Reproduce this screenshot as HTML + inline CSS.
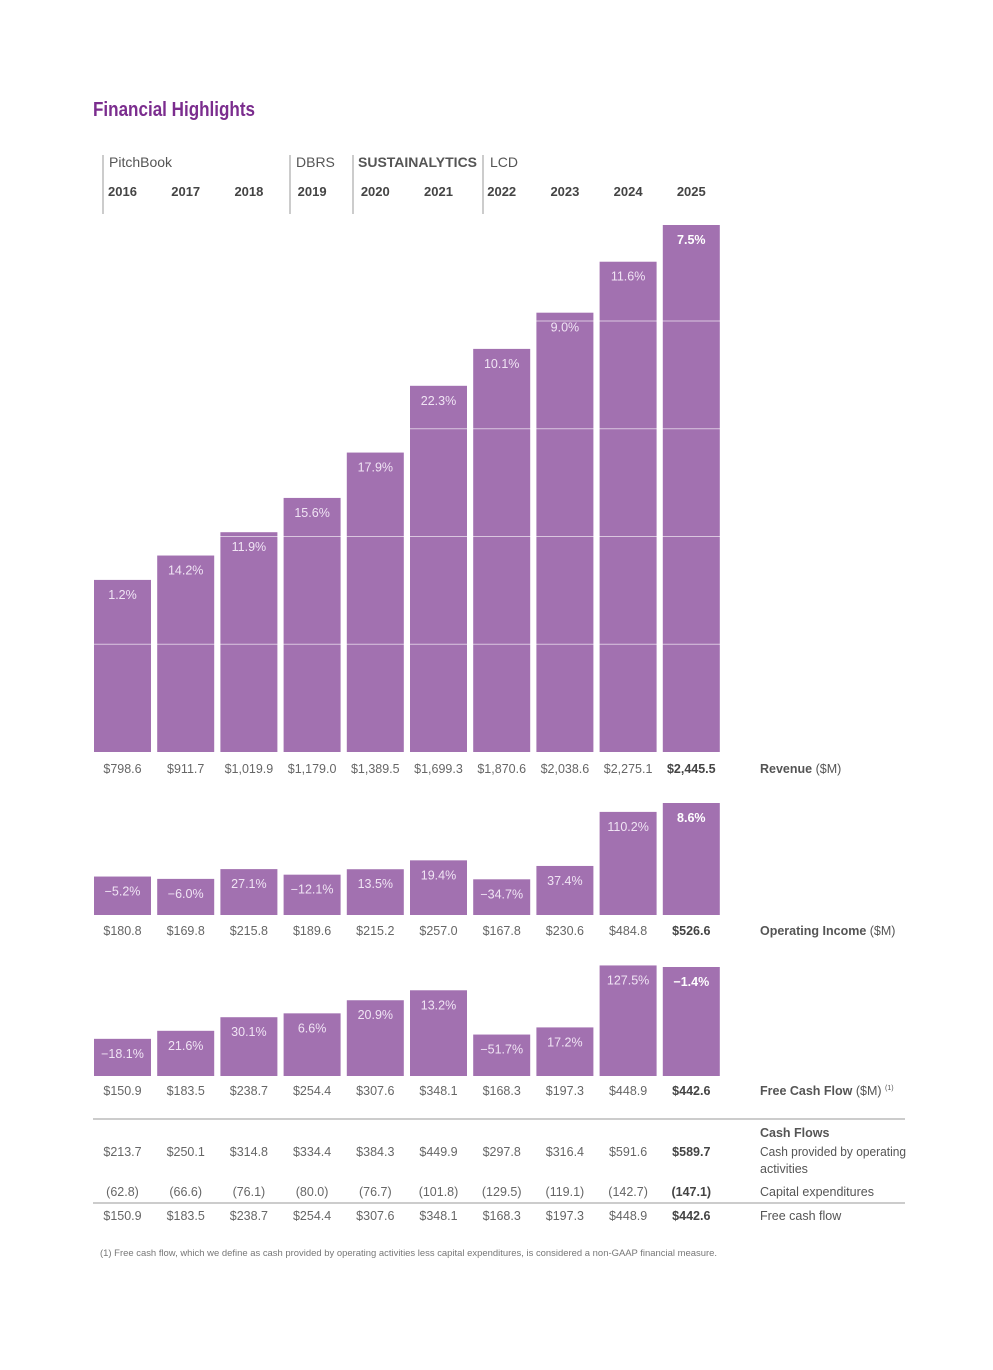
<!DOCTYPE html>
<html><head><meta charset="utf-8">
<style>
body{margin:0;background:#fff;}
svg text{font-family:"Liberation Sans Narrow","Liberation Sans",sans-serif;}
</style></head>
<body>
<svg id="chart" width="993" height="1365" viewBox="0 0 993 1365" xmlns="http://www.w3.org/2000/svg">
<text x="93" y="116" font-size="20" font-weight="bold" fill="#7b2d8e" textLength="162" lengthAdjust="spacingAndGlyphs">Financial Highlights</text>
<g id="hdr"></g>
<g id="g"></g>
<g id="tbl"></g>
<text x="100" y="1256" font-size="9.5" fill="#777" textLength="617" lengthAdjust="spacingAndGlyphs">(1) Free cash flow, which we define as cash provided by operating activities less capital expenditures, is considered a non-GAAP financial measure.</text>
</svg>
<script>
const years=["2016","2017","2018","2019","2020","2021","2022","2023","2024","2025"];
const revenue=[798.6,911.7,1019.9,1179.0,1389.5,1699.3,1870.6,2038.6,2275.1,2445.5];
const revenueGrowth=["1.2%","14.2%","11.9%","15.6%","17.9%","22.3%","10.1%","9.0%","11.6%","7.5%"];
const opIncome=[180.8,169.8,215.8,189.6,215.2,257.0,167.8,230.6,484.8,526.6];
const opGrowth=["−5.2%","−6.0%","27.1%","−12.1%","13.5%","19.4%","−34.7%","37.4%","110.2%","8.6%"];
const fcf=[150.9,183.5,238.7,254.4,307.6,348.1,168.3,197.3,448.9,442.6];
const fcfGrowth=["−18.1%","21.6%","30.1%","6.6%","20.9%","13.2%","−51.7%","17.2%","127.5%","−1.4%"];
const cfo=[213.7,250.1,314.8,334.4,384.3,449.9,297.8,316.4,591.6,589.7];
const capex=[62.8,66.6,76.1,80.0,76.7,101.8,129.5,119.1,142.7,147.1];
const revGridTicks=[500,1000,1500,2000];
const brands=[["PitchBook",109,false],["DBRS",296,false],["SUSTAINALYTICS",358,true],["LCD",490,false]];
const ns="http://www.w3.org/2000/svg";
function el(p,t,a,txt){const e=document.createElementNS(ns,t);for(const k in a)e.setAttribute(k,a[k]);if(txt!==undefined)e.textContent=txt;p.appendChild(e);return e;}
const xL=i=>94+i*63.2, bw=57, xC=i=>xL(i)+bw/2;
const fmt=v=>"$"+v.toLocaleString("en-US",{minimumFractionDigits:1,maximumFractionDigits:1});
const hdr=document.getElementById('hdr');
[103,290,353,483].forEach(x=>{const l=el(hdr,'line',{x1:x,x2:x,y1:155,y2:214,stroke:'#999','stroke-width':1});

});
brands.forEach(b=>{const t=el(hdr,'text',{x:b[1],y:167,'font-size':14,fill:'#555','font-weight':b[2]?'bold':'normal','font-family':'"Liberation Sans",sans-serif'},b[0]);

});
years.forEach((y,i)=>{const t=el(hdr,'text',{x:xC(i),y:196,'font-size':13,'font-weight':'bold',fill:'#444','text-anchor':'middle'},y);

});
const g=document.getElementById('g');
function section(vals,growth,base,scale,valY,label,name){
 vals.forEach((v,i)=>{const h=v*scale;
  const r=el(g,'rect',{x:xL(i),y:base-h,width:bw,height:h,fill:'#a271b0'});
  
  
  const last=i===vals.length-1;
  const t=el(g,'text',{x:xC(i),y:base-h+19,'font-size':12.5,fill:last?'#fff':'#f0e4f4','text-anchor':'middle','font-weight':last?'bold':'normal'},growth[i]);
  
  
  const vt=el(g,'text',{x:xC(i),y:valY,'font-size':12.5,fill:last?'#444':'#666','text-anchor':'middle','font-weight':last?'bold':'normal'},fmt(v));
  
  
 });
 const lt=el(g,'text',{x:760,y:valY,'font-size':12.5,fill:'#555'});
 
 
 el(lt,'tspan',{'font-weight':'bold'},label[0]);el(lt,'tspan',{},label[1]);
 if(label[2])el(lt,'tspan',{'font-size':7,dy:-5},label[2]);
}
section(revenue,revenueGrowth,752,527/2445.5,773,["Revenue"," ($M)"],'revenue');
revGridTicks.forEach(tk=>{const y=752-tk*527/2445.5;
 const l=el(g,'line',{x1:94,x2:720,y1:y,y2:y,stroke:'#fff','stroke-opacity':0.6,'stroke-width':1});
 
 });
section(opIncome,opGrowth,915,112/526.6,935,["Operating Income"," ($M)"],'operating-income');
section(fcf,fcfGrowth,1076,109/442.6,1095,["Free Cash Flow"," ($M) ","(1)"],'free-cash-flow');
const tb=document.getElementById('tbl');
[[1119],[1203]].forEach(a=>{const l=el(tb,'line',{x1:93,x2:905,y1:a[0],y2:a[0],stroke:'#999'});
 
 });
function row(vals,y,f,name){vals.forEach((v,i)=>{const last=i===vals.length-1;
 const t=el(tb,'text',{x:xC(i),y:y,'font-size':12.5,fill:last?'#444':'#666','text-anchor':'middle','font-weight':last?'bold':'normal'},f(v));
 
 });}
row(cfo,1156,fmt,'cash-from-operations');
row(capex,1196,v=>"("+v.toFixed(1)+")",'capital-expenditures');
row(fcf,1220,fmt,'free-cash-flow-row');
[["Cash Flows",1137,true],["Cash provided by operating",1156,false],["activities",1173,false],["Capital expenditures",1196,false],["Free cash flow",1220,false]].forEach(a=>{
 const t=el(tb,'text',{x:760,y:a[1],'font-size':12.5,fill:'#555','font-weight':a[2]?'bold':'normal'},a[0]);
 if(a[0]==="Cash provided by operating"){t.setAttribute('textLength','146');t.setAttribute('lengthAdjust','spacingAndGlyphs');}
 
 });
</script>
</body></html>
